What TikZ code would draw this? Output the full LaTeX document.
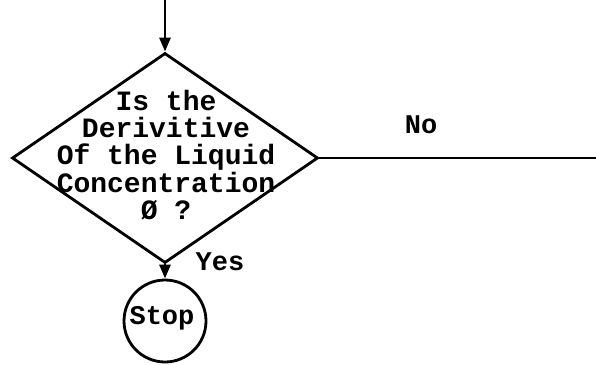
\documentclass[tikz,border=0pt]{standalone}
\usepackage{fontspec}
\setmonofont{Liberation Mono}
\usetikzlibrary{shapes.geometric,arrows.meta}
\tikzset{
  ln/.style={line width=2.8pt},
  arr/.style={ln,-{Triangle[length=14pt,width=11pt]}},
  lbl/.style={font=\ttfamily\bfseries\fontsize{27}{27}\selectfont, inner sep=0pt},
}
\begin{document}
\begin{tikzpicture}[x=1pt,y=-1pt]
\useasboundingbox (0,0) rectangle (596,364);
\node[ln,draw,diamond,minimum width=306pt,minimum height=210pt,inner sep=0pt] (d) at (165,158) {};
\coordinate (in) at (165,0);
\coordinate (out) at (596,160);
\node[lbl,align=center,font=\ttfamily\bfseries\fontsize{28}{27.2}\selectfont] (q) at (166,155) {Is the\\Derivitive\\Of the Liquid\\Concentration\\Ø ?};
\node[ln,draw,circle,minimum size=82pt,inner sep=0pt] (s) at (165,321) {};
\node[lbl] (stoptext) at (162,318) {Stop};
\draw[arr] (in) -- (d.north);
\draw[ln] (d.east) -- (d.east -| out);
\draw[arr] (d.south) -- (s.north);
\node[lbl,anchor=base] (yes) at (220,270) {Yes};
\node[lbl,anchor=base] (no) at (421,133) {No};
\end{tikzpicture}
\end{document}
